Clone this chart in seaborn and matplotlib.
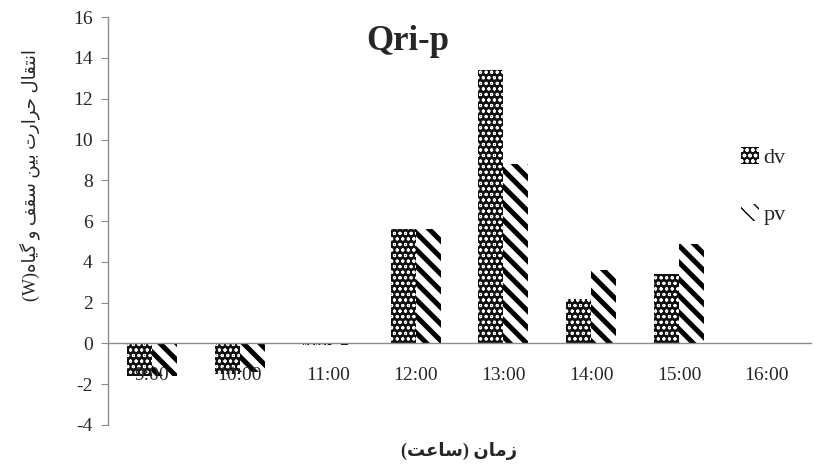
""" Qri-p: heat transfer between roof and plant, dv vs pv bars. """

import numpy as np
import pandas as pd
import seaborn as sns
import matplotlib.pyplot as plt

times = ['9:00', '10:00', '11:00', '12:00', '13:00', '14:00', '15:00', '16:00']
dv = [-1.6, -1.5, -0.08, 5.6, 13.4, 2.2, 3.4, np.nan]
pv = [-1.6, -1.4, -0.06, 5.6, 8.8, 3.6, 4.9, np.nan]
series_names = ['dv', 'pv']
y_ticks = [-4, -2, 0, 2, 4, 6, 8, 10, 12, 14, 16]

title_text = 'Qri-p'
xlabel_fa = 'زمان (ساعت)'
ylabel_fa = 'انتقال حرارت بین سقف و گیاه'
ylabel_unit = '(W)'

# contextual forms: isolated, final, initial, medial (None = does not join forward)
FORMS = {
    'ا': ('\uFE8D', '\uFE8E', None, None),
    'ب': ('\uFE8F', '\uFE90', '\uFE91', '\uFE92'),
    'ت': ('\uFE95', '\uFE96', '\uFE97', '\uFE98'),
    'ح': ('\uFEA1', '\uFEA2', '\uFEA3', '\uFEA4'),
    'ر': ('\uFEAD', '\uFEAE', None, None),
    'ز': ('\uFEAF', '\uFEB0', None, None),
    'س': ('\uFEB1', '\uFEB2', '\uFEB3', '\uFEB4'),
    'ع': ('\uFEC9', '\uFECA', '\uFECB', '\uFECC'),
    'ف': ('\uFED1', '\uFED2', '\uFED3', '\uFED4'),
    'ق': ('\uFED5', '\uFED6', '\uFED7', '\uFED8'),
    'ل': ('\uFEDD', '\uFEDE', '\uFEDF', '\uFEE0'),
    'م': ('\uFEE1', '\uFEE2', '\uFEE3', '\uFEE4'),
    'ن': ('\uFEE5', '\uFEE6', '\uFEE7', '\uFEE8'),
    'ه': ('\uFEE9', '\uFEEA', '\uFEEB', '\uFEEC'),
    'و': ('\uFEED', '\uFEEE', None, None),
    'ی': ('\uFBFC', '\uFBFD', '\uFBFE', '\uFBFF'),
    'گ': ('\uFB92', '\uFB93', '\uFB94', '\uFB95'),
}


def shape_fa(text):
    # no bidi/reshaper available, so shape the letters and flip to visual order
    out = []
    for i, ch in enumerate(text):
        if ch not in FORMS:
            out.append(ch)
            continue
        prev = text[i - 1] if i > 0 else ''
        nxt = text[i + 1] if i + 1 < len(text) else ''
        join_prev = prev in FORMS and FORMS[prev][2] is not None
        join_next = nxt in FORMS and FORMS[ch][2] is not None
        iso, fin, ini, med = FORMS[ch]
        if join_prev and join_next:
            out.append(med)
        elif join_prev:
            out.append(fin)
        elif join_next:
            out.append(ini)
        else:
            out.append(iso)
    mirror = {'(': ')', ')': '('}
    return ''.join(mirror.get(c, c) for c in reversed(out))


sns.set_style('white')
plt.rcParams['font.family'] = ['Liberation Serif', 'DejaVu Sans']

df = pd.DataFrame({
    'time': times * 2,
    'value': dv + pv,
    'series': [series_names[0]] * len(times) + [series_names[1]] * len(times),
})

fig = plt.figure(figsize=(8.19, 4.72), dpi=100)
ax = fig.add_axes([0.132, 0.0996, 0.858, 0.864])

sns.barplot(data=df, x='time', y='value', hue='series', order=times,
            hue_order=series_names, palette=['#222222', 'white'],
            width=0.57, errorbar=None, legend=False, ax=ax)

# patterns like the original Excel fills
styles = [('#111111', 'white', 'ooo', 0.7), ('white', 'black', '\\\\', 3.6)]
for cont, (fc, ec, hatch, hlw) in zip(ax.containers, styles):
    for bar in cont:
        bar.set_facecolor(fc)
        bar.set_edgecolor(ec)
        bar.set_linewidth(0)
        bar.set_hatch(hatch)
        if hasattr(bar, 'set_hatch_linewidth'):
            bar.set_hatch_linewidth(hlw)

ax.set_ylim(-4, 16)
ax.set_xlim(-0.5, len(times) - 0.5)
ax.set_yticks(y_ticks)
ax.set_yticklabels([str(t) for t in y_ticks])
ax.set_xticks(range(len(times)))
ax.set_xticklabels(times)
ax.set_xticks(np.arange(len(times) + 1) - 0.5, minor=True)
ax.tick_params(axis='x', which='major', length=0, pad=17, labelsize=14)
ax.tick_params(axis='x', which='minor', length=7, direction='out', color='#8c8c8c')
ax.tick_params(axis='y', length=5, direction='out', color='#8c8c8c', pad=6,
               left=True, labelsize=14)
# time labels sit on top of the negative bars, as in the original
ax.set_axisbelow(False)

for side in ['top', 'right']:
    ax.spines[side].set_visible(False)
ax.spines['bottom'].set_position(('data', 0))
for side in ['left', 'bottom']:
    ax.spines[side].set_color('#8c8c8c')
    ax.spines[side].set_linewidth(1)

ax.set_xlabel('')
ax.set_ylabel('')

fig.text(0.498, 0.912, title_text, fontsize=25, fontweight='bold',
         ha='center', va='center')
fig.text(0.56, 0.045, shape_fa(xlabel_fa), fontsize=13, fontweight='bold',
         ha='center', va='center')
fig.text(0.036, 0.63, ylabel_unit + shape_fa(ylabel_fa), fontsize=13,
         rotation=90, ha='center', va='center')

ax.legend(ax.containers, series_names, loc='center left',
          bbox_to_anchor=(0.905, 0.606), bbox_transform=fig.transFigure,
          frameon=False, fontsize=16, handlelength=0.8, handleheight=0.8,
          handletextpad=0.2, labelspacing=1.6, borderpad=0, borderaxespad=0)

plt.savefig('out.png', dpi=100)
plt.close()
